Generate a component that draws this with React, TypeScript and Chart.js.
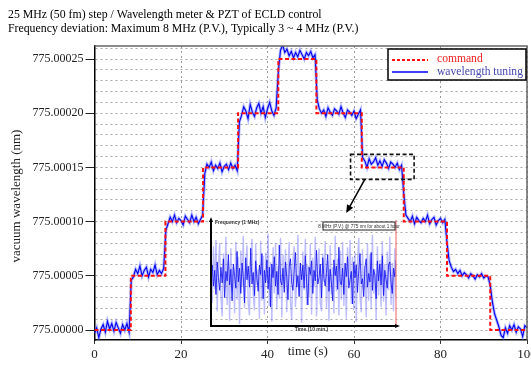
import React, { useEffect, useRef } from "react";
import { Chart, registerables } from "chart.js";

Chart.register(...registerables);

// ---------------- data ----------------
const TITLE_LINES = [
  "25 MHz (50 fm) step / Wavelength meter & PZT of ECLD control",
  "Frequency deviation: Maximum 8 MHz (P.V.), Typically 3 ~ 4 MHz (P.V.)",
];
const X_TITLE = "time (s)";
const Y_TITLE = "vacuum wavelength (nm)";
const LEGEND_LABELS = ["command", "wavelength tuning"];
const X_MIN = 0;
const X_MAX = 100;
const X_STEP = 20;
const BASE_NM = 775;
const Y_UNIT_NM = 1e-5; // y values are in units of 0.00001 nm above 775 nm
const Y_MIN = -0.92;
const Y_MAX = 26.2;
const Y_LABEL_EVERY = 5;

// commanded wavelength (step function)
const commandTimes = [0, 8.4, 16.4, 25.1, 33.2, 42.5, 51.3, 61.8, 71.5, 81.5, 91.5, 100];
const commandLevels = [0, 5, 10, 15, 20, 25, 20, 15, 10, 5, 0, 0];

// measured wavelength, sampled every 0.5 s
const SAMPLE_STEP_S = 0.5;
const tuningLevels = [
  -0.3, 0.2, -0.7, 0.1, 0.5, -0.2, 0.8, 0.1, 0.6, -0.1, 0.7, 0.2, -0.3, 0.5, 0.0, 0.6, -0.2,
  4.6,
  4.9, 5.6, 5.2, 5.9, 5.0, 5.5, 5.8, 4.9, 5.6, 5.3, 6.0, 5.1, 5.5, 5.2, 5.7,
  9.2,
  9.8, 10.4, 10.0, 10.6, 9.9, 10.3, 10.1, 9.7, 10.5, 10.2, 9.9, 10.6, 10.0, 10.4, 9.8, 10.2,
  10.6,
  14.4,
  15.3, 15.0, 15.5, 14.7, 15.2, 14.9, 15.4, 14.6, 15.1, 15.3, 14.8, 15.4, 14.9, 15.2, 14.7,
  19.2,
  19.8, 20.6, 20.2, 19.5, 20.8, 20.1, 19.7, 20.5, 20.9, 20.0, 20.6, 19.6, 20.4, 21.0, 20.2, 19.8, 20.5,
  23.8,
  25.8, 26.3, 25.6, 25.9, 25.3, 25.7, 25.1, 25.6, 25.2, 25.8, 25.4, 25.0, 25.6, 25.3, 25.7, 25.1, 25.4,
  21.2,
  20.4, 20.0, 20.3, 19.7, 20.5, 20.1, 19.8, 20.4, 20.2, 19.9, 20.6, 20.0, 19.6, 20.3, 20.1, 19.8, 20.2, 19.5, 19.9, 20.3,
  15.9,
  15.6, 15.0, 15.8, 15.3, 15.5, 15.9, 15.2, 15.6, 15.1, 15.7, 15.4, 14.9, 15.5, 15.3, 15.0, 15.4, 14.8, 15.2,
  12.6,
  10.6, 10.3, 10.0, 10.5, 9.8, 10.4, 10.1, 9.9, 10.3, 10.0, 10.6, 9.8, 10.2, 10.4, 9.7, 10.1, 10.3, 9.9, 10.2,
  8.1,
  6.4,
  5.8, 5.4, 5.6, 5.2, 5.5, 5.0, 5.3, 5.1, 4.8, 5.2, 5.0, 4.7, 5.1, 4.9, 5.2, 4.8, 5.0, 4.9,
  4.1,
  2.6, 1.5, 0.9, 0.3, -0.5,
  -0.7, 0.2, -0.3, 0.4, 0.0, 0.5, -0.2, 0.3, 0.1, -0.6, 0.4, 0.2,
];

// zoom box (data units) and arrow
const ZOOM_BOX_T = [59.2, 73.9];
const ZOOM_BOX_Y = [13.9, 16.2];
const ARROW_FROM = [62.5, 13.9];
const ARROW_TO = [58.2, 10.8];

// inset: long-term frequency record (MHz)
const INSET_Y_TITLE = "Frequency (1 MHz)";
const INSET_NOTE = "8 MHz (P.V.) @ 775 nm for about 1 hour";
const INSET_X_TITLE = "Time (10 min.)";
const insetDark = [
  -0.5, 0.8, -1.2, 0.3, -2.0, 1.1, -0.4, -1.6, 0.6, -0.9, 1.4, -2.3, 0.2, -0.7, 1.8, -1.1, 0.4, -2.6, 0.9, -0.2,
  -1.4, 2.1, -0.8, 0.5, -1.9, 1.0, -0.3, -2.8, 1.5, -0.6, 0.7, -1.3, 2.4, -1.0, 0.1, -2.1, 1.2, -0.5, -1.7, 0.8,
  -0.1, 1.9, -2.4, 0.3, -0.9, 1.3, -1.5, 0.6, -3.2, 0.9, -0.4, 1.6, -1.2, 0.2, -2.0, 2.7, -0.7, -1.1, 0.5, -1.8,
  1.1, -0.3, -2.5, 0.7, 1.4, -0.9, -1.6, 0.4, 2.0, -1.3, -0.2, -2.2, 1.0, -0.6, 0.8, -1.4, 1.7, -0.8, -3.0, 0.6,
  -0.1, 1.2, -1.9, 0.3, -0.7, 2.2, -1.0, -0.4, 0.9, -2.3, 1.5, -0.5, -1.2, 0.1, 1.8, -1.7, 0.4, -0.9, -2.6, 1.3,
  -0.2, 0.7, -1.5, 2.5, -0.8, -1.1, 0.5, -2.0, 1.0, -0.3, 1.6, -1.4, -0.6, 0.2, -2.9, 1.1, -0.4, 0.8, -1.8, 0.3,
  1.9, -1.0, -0.5, -2.2, 0.6, 1.4, -1.3, 0.0, -0.8, 2.0, -1.6, 0.4, -0.2, -2.4, 1.2, -0.7, 0.9, -1.1, 1.7, -2.1,
  0.3, -0.6, -1.4, 0.8, 1.1, -0.9, -1.9, 0.5, -0.3, 1.3,
];
const insetLight = [
  1.5, -2.8, 2.6, -1.5, 3.2, -3.6, 0.8, 2.9, -2.2, -4.1, 1.9, -0.9, 3.5, -3.0, 1.2, -4.5, 2.4, -1.8, 0.6, -3.8,
  3.0, -2.5, 1.6, -4.8, 2.2, -1.2, 3.6, -3.3, 0.9, 2.7, -2.9, -4.0, 1.4, 3.3, -2.0, -3.5, 2.8, -1.1, 0.4, -4.3,
  3.1, -2.6, 1.7, -3.9, 2.0, -0.7, 3.8, -3.1, 1.1, -4.6, 2.5, -1.9, 2.9, -3.4, 0.7, -2.4, 3.4, -4.2, 1.8, -1.4,
  2.3, -3.7, 0.5, 3.0, -2.7, -4.4, 1.3, 2.6, -3.2, -1.0, 3.7, -2.1, 1.0, -4.7, 2.1, -1.6, 3.3, -3.0, 0.8, -2.3,
  2.8, -3.9, 1.5, -1.3, 3.5, -4.1, 0.3, 2.4, -2.8, -3.6, 1.9, -0.8, 3.1, -3.3, 1.2, -4.5, 2.7, -2.0, 0.6, -3.8,
  3.6, -1.7, 1.4, -4.0, 2.2, -2.5, 3.0, -3.1, 0.9, -4.3, 2.5, -1.1, 3.2, -2.9, 1.6, -3.5, 2.0, -4.6, 1.1, 3.4,
  -2.2, -3.7, 2.3, -1.5, 0.7, -4.2, 2.9, -2.6, 1.8, -3.4, 3.7, -1.9, 0.4, -4.4, 2.6, -2.1, 1.3, -3.2, 3.1, -2.7,
  0.9, -4.0, 2.1, -1.6, 3.5, -3.0, 1.0, -3.6, 2.4, -2.3,
];

// ---------------- styles ----------------
const SERIF = "'Liberation Serif', 'Times New Roman', serif";
const SANS = "'Liberation Sans', Arial, sans-serif";
const RED = "#ff1010";
const BLUE = "#0000f0";

const W = 531;
const H = 365;

const mainOverlay = {
  id: "mainOverlay",
  afterDraw(chart: any) {
    const { ctx, chartArea: a, scales } = chart;
    const x = scales.x;
    const y = scales.y;
    ctx.save();

    // frame top / right
    ctx.strokeStyle = "#666";
    ctx.lineWidth = 1.5;
    ctx.setLineDash([]);
    ctx.beginPath();
    ctx.moveTo(a.left, a.top);
    ctx.lineTo(a.right, a.top);
    ctx.lineTo(a.right, a.bottom);
    ctx.stroke();

    // title
    ctx.fillStyle = "#000";
    ctx.font = `11.8px ${SERIF}`;
    ctx.textAlign = "left";
    ctx.textBaseline = "alphabetic";
    TITLE_LINES.forEach((t, i) => ctx.fillText(t, 8, 18 + i * 13.5));

    // x title
    ctx.font = `13px ${SERIF}`;
    ctx.textAlign = "center";
    ctx.textBaseline = "middle";
    ctx.fillStyle = "#222";
    ctx.fillText(X_TITLE, (a.left + a.right) / 2 - 3, 352);

    // y title
    ctx.save();
    ctx.translate(17, (a.top + a.bottom) / 2 + 3);
    ctx.rotate(-Math.PI / 2);
    ctx.fillText(Y_TITLE, 0, 0);
    ctx.restore();

    // zoom box
    const bx0 = x.getPixelForValue(ZOOM_BOX_T[0]);
    const bx1 = x.getPixelForValue(ZOOM_BOX_T[1]);
    const by0 = y.getPixelForValue(ZOOM_BOX_Y[1]);
    const by1 = y.getPixelForValue(ZOOM_BOX_Y[0]);
    ctx.strokeStyle = "#111";
    ctx.lineWidth = 1.6;
    ctx.setLineDash([4, 2.5]);
    ctx.strokeRect(bx0, by0, bx1 - bx0, by1 - by0);
    ctx.setLineDash([]);

    // arrow
    const ax0 = x.getPixelForValue(ARROW_FROM[0]);
    const ay0 = y.getPixelForValue(ARROW_FROM[1]);
    const ax1 = x.getPixelForValue(ARROW_TO[0]);
    const ay1 = y.getPixelForValue(ARROW_TO[1]);
    const ang = Math.atan2(ay1 - ay0, ax1 - ax0);
    ctx.strokeStyle = "#000";
    ctx.fillStyle = "#000";
    ctx.lineWidth = 1.5;
    ctx.beginPath();
    ctx.moveTo(ax0, ay0);
    ctx.lineTo(ax1 - 5 * Math.cos(ang), ay1 - 5 * Math.sin(ang));
    ctx.stroke();
    ctx.beginPath();
    ctx.moveTo(ax1, ay1);
    ctx.lineTo(ax1 - 8 * Math.cos(ang) + 3.5 * Math.sin(ang), ay1 - 8 * Math.sin(ang) - 3.5 * Math.cos(ang));
    ctx.lineTo(ax1 - 8 * Math.cos(ang) - 3.5 * Math.sin(ang), ay1 - 8 * Math.sin(ang) + 3.5 * Math.cos(ang));
    ctx.closePath();
    ctx.fill();

    // legend
    const lx = a.right - 139;
    const ly = a.top + 3;
    const lw = 138;
    const lh = 31;
    ctx.fillStyle = "#fff";
    ctx.fillRect(lx, ly, lw, lh);
    ctx.strokeStyle = "#000";
    ctx.lineWidth = 1.5;
    ctx.strokeRect(lx, ly, lw, lh);
    const rows = [ly + 10, ly + 23];
    ctx.lineWidth = 2;
    ctx.strokeStyle = RED;
    ctx.setLineDash([3, 2]);
    ctx.beginPath();
    ctx.moveTo(lx + 4, rows[0] + 1);
    ctx.lineTo(lx + 40, rows[0] + 1);
    ctx.stroke();
    ctx.setLineDash([]);
    ctx.lineWidth = 1.5;
    ctx.strokeStyle = BLUE;
    ctx.beginPath();
    ctx.moveTo(lx + 4, rows[1]);
    ctx.lineTo(lx + 40, rows[1]);
    ctx.stroke();
    ctx.font = `11.6px ${SERIF}`;
    ctx.textAlign = "left";
    ctx.textBaseline = "middle";
    ctx.fillStyle = "#f02020";
    ctx.fillText(LEGEND_LABELS[0], lx + 49, rows[0]);
    ctx.fillStyle = "#4848b0";
    ctx.fillText(LEGEND_LABELS[1], lx + 49, rows[1]);

    ctx.restore();
  },
};

const insetOverlay = {
  id: "insetOverlay",
  afterDraw(chart: any) {
    const { ctx, chartArea: a } = chart;
    ctx.save();
    // red right edge
    ctx.strokeStyle = "#f07878";
    ctx.lineWidth = 1.2;
    ctx.beginPath();
    ctx.moveTo(a.right, a.top - 1);
    ctx.lineTo(a.right, a.bottom);
    ctx.stroke();
    // axes
    ctx.strokeStyle = "#000";
    ctx.fillStyle = "#000";
    ctx.lineWidth = 2;
    ctx.beginPath();
    ctx.moveTo(a.left, a.bottom + 1);
    ctx.lineTo(a.left, a.top - 1);
    ctx.moveTo(a.left - 1, a.bottom);
    ctx.lineTo(a.right + 1, a.bottom);
    ctx.stroke();
    // arrow heads
    ctx.beginPath();
    ctx.moveTo(a.left, a.top - 4);
    ctx.lineTo(a.left - 2, a.top + 1);
    ctx.lineTo(a.left + 2, a.top + 1);
    ctx.closePath();
    ctx.fill();
    ctx.beginPath();
    ctx.moveTo(a.right + 4, a.bottom);
    ctx.lineTo(a.right - 1, a.bottom - 2);
    ctx.lineTo(a.right - 1, a.bottom + 2);
    ctx.closePath();
    ctx.fill();
    // texts
    ctx.font = `bold 5px ${SANS}`;
    ctx.textBaseline = "middle";
    ctx.textAlign = "left";
    ctx.fillStyle = "#333";
    ctx.fillText(INSET_Y_TITLE, a.left + 4, a.top + 2);
    ctx.textAlign = "center";
    ctx.fillText(INSET_X_TITLE, (a.left + a.right) / 2 + 8, a.bottom + 4);
    // note box
    const nx = a.right - 73;
    const ny = a.top + 1;
    ctx.fillStyle = "#fff";
    ctx.fillRect(nx, ny, 72, 8);
    ctx.strokeStyle = "#222";
    ctx.lineWidth = 1;
    ctx.strokeRect(nx, ny, 72, 8);
    ctx.fillStyle = "#333";
    ctx.font = `4.6px ${SANS}`;
    ctx.fillText(INSET_NOTE, nx + 36, ny + 4.3);
    ctx.restore();
  },
};

function MainChart() {
  const ref = useRef<HTMLCanvasElement | null>(null);
  useEffect(() => {
    if (!ref.current) return;
    const commandData = commandTimes.map((t, i) => ({ x: t, y: commandLevels[i] }));
    const tuningData = tuningLevels.map((v, i) => ({ x: i * SAMPLE_STEP_S, y: v }));
    const chart = new Chart(ref.current, {
      type: "line",
      data: {
        datasets: [
          {
            label: LEGEND_LABELS[0],
            data: commandData,
            stepped: true,
            borderColor: RED,
            borderWidth: 2,
            borderDash: [4, 2.5],
            pointRadius: 0,
            fill: false,
          },
          {
            label: LEGEND_LABELS[1],
            data: tuningData,
            borderColor: BLUE,
            borderWidth: 1.1,
            pointRadius: 0,
            tension: 0,
            fill: false,
          },
          {
            label: "halo",
            data: tuningData,
            borderColor: "rgba(90,100,255,0.45)",
            borderWidth: 3,
            pointRadius: 0,
            tension: 0,
            fill: false,
          },
        ],
      },
      options: {
        responsive: false,
        animation: false,
        devicePixelRatio: 1,
        layout: { padding: { top: 46, right: 4, left: 0, bottom: 0 } },
        plugins: { legend: { display: false }, title: { display: false }, tooltip: { enabled: false } },
        scales: {
          x: {
            type: "linear",
            min: X_MIN,
            max: X_MAX,
            afterFit: (s: any) => {
              s.height = 25;
              s.paddingRight = 0;
              s.paddingLeft = 0;
            },
            ticks: {
              stepSize: X_STEP,
              color: "#222",
              font: { family: SERIF, size: 13 },
              padding: 3,
              maxRotation: 0,
              includeBounds: false,
            },
            grid: {
              color: (c: any) => (c.tick && c.tick.value === X_MIN ? "rgba(0,0,0,0)" : "#9a9a9a"),
              lineWidth: 1,
              tickLength: 4,
              tickColor: "#333",
            },
            border: { display: true, color: "#000", width: 1.5, dash: [2, 3] },
          },
          y: {
            type: "linear",
            min: Y_MIN,
            max: Y_MAX,
            afterFit: (s: any) => {
              s.width = 94.5;
              s.paddingTop = 0;
              s.paddingBottom = 0;
            },
            ticks: {
              stepSize: 1,
              autoSkip: false,
              includeBounds: false,
              color: "#222",
              font: { family: SERIF, size: 12 },
              padding: 2,
              callback: (v: any) => {
                const n = Math.round(Number(v));
                if (Math.abs(Number(v) - n) > 1e-6 || n % Y_LABEL_EVERY !== 0) return "";
                return (BASE_NM + n * Y_UNIT_NM).toFixed(5);
              },
            },
            grid: {
              color: "#a8a8a8",
              lineWidth: 1,
              tickLength: 9,
              tickColor: (c: any) => {
                const v = c.tick ? c.tick.value : 1;
                return Math.abs(v - Math.round(v)) < 1e-6 && Math.round(v) % Y_LABEL_EVERY === 0 ? "#222" : "rgba(0,0,0,0)";
              },
            },
            border: { display: true, color: "#000", width: 1.5, dash: [2, 3] },
          },
        },
      },
      plugins: [mainOverlay],
    } as any);
    return () => chart.destroy();
  }, []);
  return <canvas ref={ref} width={W} height={H} style={{ position: "absolute", left: 0, top: 0 }} />;
}

function InsetChart() {
  const ref = useRef<HTMLCanvasElement | null>(null);
  useEffect(() => {
    if (!ref.current) return;
    const span = insetDark.length - 1;
    const darkData = insetDark.map((v, i) => ({ x: i, y: v }));
    const lightData = insetLight.map((v, i) => ({ x: (i * span) / (insetLight.length - 1), y: v }));
    const chart = new Chart(ref.current, {
      type: "line",
      data: {
        datasets: [
          { data: darkData, borderColor: "rgba(20,20,240,0.85)", borderWidth: 1, pointRadius: 0, fill: false },
          { data: lightData, borderColor: "rgba(110,110,255,0.45)", borderWidth: 1.4, pointRadius: 0, fill: false },
        ],
      },
      options: {
        responsive: false,
        animation: false,
        devicePixelRatio: 1,
        layout: { padding: { left: 11, top: 11, right: 14, bottom: 14 } },
        plugins: { legend: { display: false }, title: { display: false }, tooltip: { enabled: false } },
        scales: {
          x: { type: "linear", min: 0, max: span, display: false },
          y: { type: "linear", min: -5, max: 5, display: false },
        },
      },
      plugins: [insetOverlay],
    } as any);
    return () => chart.destroy();
  }, []);
  return <canvas ref={ref} width={210} height={130} style={{ position: "absolute", left: 200, top: 210 }} />;
}

export default function App() {
  return (
    <div style={{ position: "fixed", left: 0, top: 0, width: W, height: H, background: "#fff", overflow: "hidden" }}>
      <MainChart />
      <InsetChart />
    </div>
  );
}
